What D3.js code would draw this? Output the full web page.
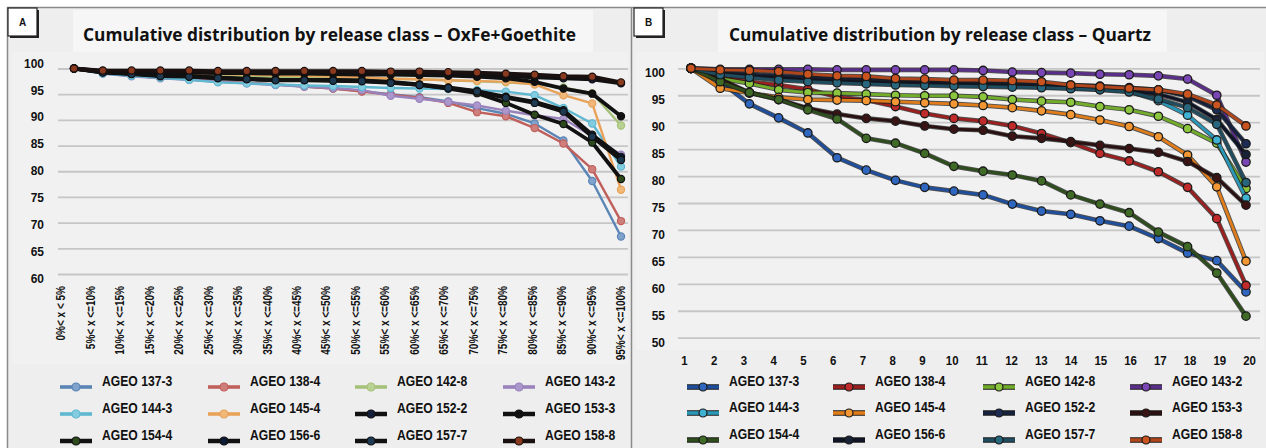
<!DOCTYPE html>
<html><head><meta charset="utf-8">
<script src="https://cdn.jsdelivr.net/npm/d3@7"></script>
<style>body{margin:0;background:#fff}svg{display:block}</style>
</head><body>
<script>
// ---------- DATA ----------
const categoriesA = ["0%< x < 5%","5%< x <=10%","10%< x <=15%","15%< x <=20%","20%< x <=25%","25%< x <=30%","30%< x <=35%","35%< x <=40%","40%< x <=45%","45%< x <=50%","50%< x <=55%","55%< x <=60%","60%< x <=65%","65%< x <=70%","70%< x <=75%","75%< x <=80%","80%< x <=85%","85%< x <=90%","90%< x <=95%","95%< x <=100%"];
const categoriesB = ["1","2","3","4","5","6","7","8","9","10","11","12","13","14","15","16","17","18","19","20"];
const yTicksA = [60,65,70,75,80,85,90,95,100];
const yTicksB = [50,55,60,65,70,75,80,85,90,95,100];
const seriesNames = ["AGEO 137-3","AGEO 138-4","AGEO 142-8","AGEO 143-2","AGEO 144-3","AGEO 145-4","AGEO 152-2","AGEO 153-3","AGEO 154-4","AGEO 156-6","AGEO 157-7","AGEO 158-8"];
const titleA = "Cumulative distribution by release class \u2013 OxFe+Goethite";
const titleB = "Cumulative distribution by release class \u2013 Quartz";

// Panel A: OxFe+Goethite
const a137_3 = [100,99.1,98.6,98.2,97.9,97.5,97.2,96.9,96.5,96.1,95.6,95.0,94.4,93.6,92.3,91.2,89.3,86.0,78.1,67.3];
const a138_4 = [100,99.1,98.6,98.2,97.9,97.5,97.2,96.9,96.5,96.1,95.5,94.9,94.3,93.3,91.5,90.7,88.4,85.4,80.4,70.3];
const a142_8 = [100,99.3,99.1,98.9,98.8,98.6,98.5,98.4,98.3,98.2,98.1,98.0,97.9,97.7,97.5,97.3,97.0,96.3,95.2,88.9];
const a143_2 = [100,99.0,98.5,98.1,97.8,97.4,97.1,96.8,96.5,96.2,95.8,94.7,94.1,93.5,92.8,91.8,90.9,90.2,86.8,83.2];
const a144_3 = [100,99.0,98.6,98.2,97.8,97.3,97.1,96.9,96.7,96.6,96.4,96.2,96.1,96.0,95.8,95.5,94.8,92.3,89.3,80.9];
const a145_4 = [100,99.4,99.3,99.1,99.0,98.9,98.8,98.7,98.6,98.5,98.3,98.0,97.9,97.7,97.6,97.4,96.9,94.8,93.2,76.4];
const a152_2 = [100,99.5,99.4,99.4,99.3,99.3,99.2,99.2,99.1,99.1,99.0,99.0,98.9,98.8,98.7,98.5,98.3,98.1,97.9,97.1];
const a153_3 = [100,99.4,99.3,99.2,99.2,99.1,99.1,99.0,99.0,98.9,98.8,98.8,98.7,98.6,98.4,98.1,97.4,96.1,95.1,90.7];
const a154_4 = [100,99.3,99.0,98.6,98.5,98.2,98.0,97.8,97.8,97.7,97.6,97.3,96.8,96.1,95.2,93.3,91.0,89.2,85.6,78.5];
const a156_6 = [100,99.3,99.0,98.6,98.5,98.2,98.0,97.8,97.8,97.8,97.7,97.4,96.9,96.3,95.6,94.5,93.5,91.9,87.1,82.8];
const a157_7 = [100,99.2,98.9,98.5,98.4,98.1,97.9,97.7,97.7,97.6,97.5,97.2,96.8,96.2,95.5,94.3,93.3,91.6,86.7,82.2];
const a158_8 = [100,99.6,99.6,99.6,99.6,99.5,99.5,99.5,99.5,99.5,99.5,99.4,99.4,99.3,99.2,99.0,98.8,98.5,98.4,97.3];

// Panel B: Quartz
const q137_3 = [100,97.5,93.4,90.8,88.0,83.4,81.1,79.2,77.9,77.2,76.5,74.8,73.5,72.9,71.7,70.7,68.4,65.7,64.3,58.5];
const q138_4 = [100,98.5,97.5,96.9,96.1,94.7,94.1,92.9,91.6,90.7,90.2,89.3,87.9,86.2,84.2,82.8,80.8,77.9,72.1,59.7];
const q142_8 = [100,98.1,97.2,96.0,95.5,95.4,95.2,95.0,94.9,94.9,94.7,94.2,93.9,93.7,92.9,92.3,91.1,88.8,86.1,77.7];
const q143_2 = [100,99.8,99.8,99.8,99.8,99.7,99.7,99.7,99.7,99.7,99.6,99.3,99.2,99.1,98.9,98.8,98.6,98.0,95.0,82.6];
const q144_3 = [100,98.9,98.5,98.1,97.8,97.5,97.3,97.1,97.0,96.9,96.8,96.7,96.5,96.3,96.1,95.7,94.0,91.3,86.7,75.9];
const q145_4 = [100,96.3,95.4,94.6,94.2,94.1,94.0,93.8,93.6,93.4,93.1,92.7,92.1,91.4,90.4,89.2,87.3,83.9,78.0,64.2];
const q152_2 = [100,99.2,98.9,98.6,98.3,98.1,97.9,97.8,97.6,97.5,97.4,97.3,97.1,96.9,96.7,96.4,96.0,94.8,92.3,86.0];
const q153_3 = [100,98.0,95.5,94.2,92.6,91.5,90.7,90.2,89.3,88.7,88.5,87.4,87.0,86.4,85.7,85.1,84.4,82.7,79.7,74.6];
const q154_4 = [100,97.5,95.5,94.2,92.3,90.6,87.0,86.1,84.2,81.8,80.9,80.2,79.1,76.5,74.8,73.2,69.6,66.9,62.0,54.0];
const q156_6 = [100,99.0,98.5,98.2,97.8,97.6,97.4,97.3,97.2,97.0,96.9,96.8,96.6,96.4,96.2,95.8,95.2,93.7,90.5,84.0];
const q157_7 = [100,98.8,98.3,97.8,97.5,97.3,97.1,96.9,96.8,96.7,96.6,96.5,96.4,96.2,96.0,95.6,94.3,92.7,89.6,78.8];
const q158_8 = [100,99.7,99.6,99.4,98.9,98.6,98.5,98.1,98.0,97.8,97.8,97.7,97.5,96.9,96.6,96.3,96.0,95.2,93.2,89.3];

const valuesA = [a137_3,a138_4,a142_8,a143_2,a144_3,a145_4,a152_2,a153_3,a154_4,a156_6,a157_7,a158_8];
const valuesB = [q137_3,q138_4,q142_8,q143_2,q144_3,q145_4,q152_2,q153_3,q154_4,q156_6,q157_7,q158_8];

// ---------- STYLES ----------
const lineColA   = ["#5b85b5","#c0605c","#a6c27a","#9a82bd","#5fb8d0","#e8a25a","#111111","#111111","#111111","#111111","#111111","#1a1010"];
const markColA   = ["#7fa3cc","#cf7f7b","#b9d192","#ab97cb","#84cde0","#f0b878","#14203a","#111111","#2c4a1c","#0f1a33","#1d3a52","#8a3a1e"];
const lineWA     = [2.4,2.4,2.4,2.4,2.4,2.4,3.8,3.8,3.8,3.8,3.8,3.8];
const lineColB   = ["#1f4f9c","#9b1f1f","#72ad2a","#5c2e8c","#2b97b8","#e07d1a","#16213d","#2a1010","#2e4d1c","#0e1426","#1f4d5f","#b0461c"];
const markColB   = ["#2f66c0","#c02a2a","#8cc63f","#7a45b5","#3fb2d3","#f29733","#1d2c55","#3a1414","#3f6b27","#1a2238","#28677d","#c9541f"];

const FONT = "'Liberation Sans', Arial, Helvetica, sans-serif";
const W = 1266, H = 448;

const svg = d3.select("body").append("svg").attr("width", W).attr("height", H)
  .style("font-family", FONT);

function squeeze(sel, f){
  sel.each(function(){
    const L = this.getComputedTextLength();
    d3.select(this).attr("textLength", L*f).attr("lengthAdjust","spacingAndGlyphs");
  });
}

// ---------- BACKGROUND ----------
svg.append("rect").attr("x",0).attr("y",0).attr("width",W).attr("height",H).attr("fill","#ffffff");
svg.append("rect").attr("x",7).attr("y",7).attr("width",624).attr("height",H-7).attr("fill","#eeeeee");
svg.append("rect").attr("x",632).attr("y",7).attr("width",W-632).attr("height",H-7).attr("fill","#eeeeee");
// lighter plot zones
svg.append("rect").attr("x",12).attr("y",52).attr("width",616).attr("height",312).attr("fill","#f1f1f1");
svg.append("rect").attr("x",636).attr("y",52).attr("width",628).attr("height",298).attr("fill","#f1f1f1");
// frame lines
svg.append("line").attr("x1",7).attr("x2",W).attr("y1",7.5).attr("y2",7.5).attr("stroke","#8a8a8a").attr("stroke-width",1.5);
svg.append("line").attr("x1",7.5).attr("x2",7.5).attr("y1",7).attr("y2",H).attr("stroke","#8a8a8a").attr("stroke-width",1.5);
svg.append("line").attr("x1",631.5).attr("x2",631.5).attr("y1",7).attr("y2",H).attr("stroke","#8a8a8a").attr("stroke-width",1.5);

function panel(cfg){
  const g = svg.append("g");
  // title box
  g.append("rect").attr("x",cfg.titleBox[0]).attr("y",10).attr("width",cfg.titleBox[1]-cfg.titleBox[0]).attr("height",42).attr("fill","#f6f6f6");
  const t = g.append("text").attr("x",cfg.titleX).attr("y",41).text(cfg.title)
    .style("font-family","'Open Sans', 'Liberation Sans', Arial, sans-serif").style("font-weight",700).style("font-size","17px").attr("fill","#111");
  t.attr("textLength", cfg.titleW).attr("lengthAdjust","spacingAndGlyphs");
  // letter box
  g.append("rect").attr("x",cfg.boxX+2).attr("y",10).attr("width",29).attr("height",28).attr("fill","#222");
  g.append("rect").attr("x",cfg.boxX).attr("y",8).attr("width",29).attr("height",28).attr("fill","#fff").attr("stroke","#222").attr("stroke-width",1.2);
  g.append("text").attr("x",cfg.boxX+14.5).attr("y",26).attr("text-anchor","middle").text(cfg.letter)
    .style("font-weight",700).style("font-size","10px").attr("fill","#111");

  // gridlines
  const grid = g.append("g").attr("transform",`translate(${cfg.gridX0},0)`)
    .call(d3.axisLeft(cfg.y).tickValues(cfg.yTicks).tickSize(-(cfg.gridX1-cfg.gridX0)).tickFormat(""));
  grid.select(".domain").remove();
  grid.selectAll("line").attr("stroke","#c6c6c6").attr("stroke-width",1.8);

  // y labels
  const yl = g.append("g").attr("transform",`translate(${cfg.yLabX},0)`)
    .call(d3.axisLeft(cfg.yLab).tickValues(cfg.yTicks).tickSize(0).tickPadding(0));
  yl.select(".domain").remove();
  yl.selectAll("text").style("font-family",FONT).style("font-size","13px").style("font-weight",700).attr("fill","#111");
  squeeze(yl.selectAll("text"), 0.92);

  // x labels
  const xl = g.append("g").attr("transform",`translate(0,${cfg.xLabY})`)
    .call(d3.axisBottom(cfg.xLab).tickSize(0).tickPadding(0));
  xl.select(".domain").remove();
  const xt = xl.selectAll("text").style("font-family",FONT).style("font-size","13px").style("font-weight",700).attr("fill","#111");
  if (cfg.rotate){
    xt.attr("transform","rotate(-90)").attr("text-anchor","end").attr("x",0).attr("y",0).attr("dy","0.36em");
    squeeze(xt, 0.77);
  } else {
    xt.attr("y",0).attr("dy","0.36em");
    squeeze(xt, 0.88);
  }

  // series
  const line = d3.line().x((d,i)=>cfg.x(cfg.cats[i])).y(d=>cfg.y(d));
  cfg.values.forEach((vals,k)=>{
    const sg = g.append("g");
    if (cfg.outline){
      sg.append("path").attr("d",line(vals)).attr("fill","none").attr("stroke","#1a1a1a").attr("stroke-opacity",0.75)
        .attr("stroke-width",cfg.lw[k]+1.8).attr("stroke-linejoin","round");
    }
    sg.append("path").attr("d",line(vals)).attr("fill","none").attr("stroke",cfg.lineCol[k])
      .attr("stroke-width",cfg.lw[k]).attr("stroke-linejoin","round");
    sg.selectAll("circle").data(vals).join("circle")
      .attr("cx",(d,i)=>cfg.x(cfg.cats[i])).attr("cy",d=>cfg.y(d)).attr("r",cfg.r)
      .attr("fill",cfg.markCol[k]).attr("stroke",cfg.outline?"#1a1a1a":cfg.lineCol[k]).attr("stroke-width",cfg.outline?1.3:1.2);
  });

  // legend
  const lg = g.append("g");
  seriesNames.forEach((name,k)=>{
    const col = k % 4, row = Math.floor(k/4);
    const lx = cfg.legCols[col], ly = cfg.legRows[row];
    if (cfg.outline){
      lg.append("line").attr("x1",lx).attr("x2",lx+32).attr("y1",ly).attr("y2",ly).attr("stroke","#1a1a1a").attr("stroke-width",5.5);
    }
    lg.append("line").attr("x1",lx).attr("x2",lx+32).attr("y1",ly).attr("y2",ly)
      .attr("stroke",cfg.lineCol[k]).attr("stroke-width",cfg.outline?3.6:(cfg.lw[k]>3?4.5:3.6));
    lg.append("circle").attr("cx",lx+16).attr("cy",ly).attr("r",4)
      .attr("fill",cfg.markCol[k]).attr("stroke",cfg.outline?"#1a1a1a":cfg.lineCol[k]).attr("stroke-width",1.2);
    const tx = lg.append("text").attr("x",lx+42).attr("y",ly-1).text(name)
      .style("font-family",FONT).style("font-size","15px").style("font-weight",700).attr("fill","#111");
    squeeze(tx, 0.81);
  });
}

// Panel A
panel({
  letter:"A", boxX:8, title:titleA, titleX:83, titleW:493, titleBox:[73,593],
  cats:categoriesA, values:valuesA, yTicks:yTicksA,
  x:d3.scalePoint().domain(categoriesA).range([74,621]),
  y:d3.scaleLinear().domain([60,100]).range([274,68.5]),
  xLab:d3.scalePoint().domain(categoriesA).range([60,620]),
  yLab:d3.scaleLinear().domain([60,100]).range([278,63]),
  gridX0:58, gridX1:628, yLabX:44, xLabY:286, rotate:true,
  lineCol:lineColA, markCol:markColA, lw:lineWA, r:3.6, outline:false,
  legCols:[60,208,355,503], legRows:[387,414,441]
});

// Panel B
panel({
  letter:"B", boxX:634, title:titleB, titleX:729, titleW:422, titleBox:[718,1167],
  cats:categoriesB, values:valuesB, yTicks:yTicksB,
  x:d3.scalePoint().domain(categoriesB).range([691,1246]),
  y:d3.scaleLinear().domain([50,100]).range([337.7,68.3]),
  xLab:d3.scalePoint().domain(categoriesB).range([684,1249]),
  yLab:d3.scaleLinear().domain([50,100]).range([342.5,72]),
  gridX0:678, gridX1:1260, yLabX:665, xLabY:360, rotate:false,
  lineCol:lineColB, markCol:markColB, lw:lineColB.map(()=>2.8), r:4.2, outline:true,
  legCols:[687,833,983,1130], legRows:[387,413,440]
});
</script>
</body></html>
